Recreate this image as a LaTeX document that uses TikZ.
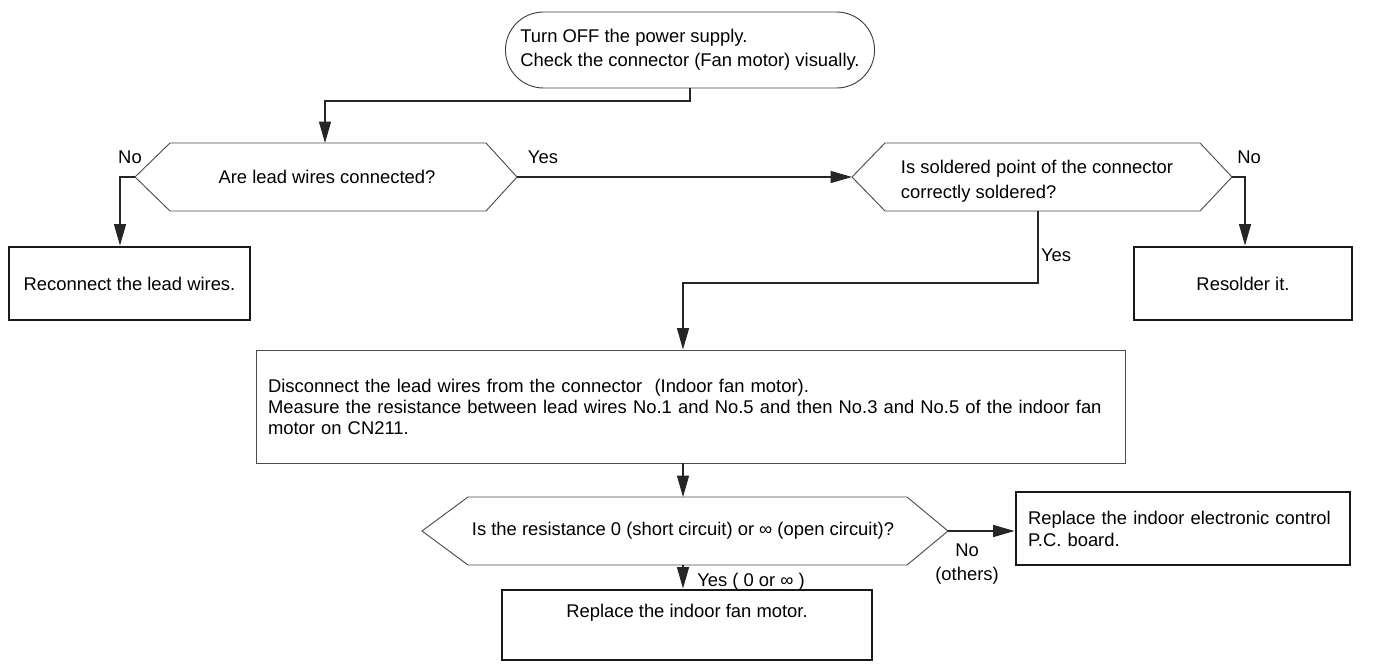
\documentclass[tikz,border=0pt]{standalone}
\usepackage{fontspec}
\setmainfont{Liberation Sans}
\usetikzlibrary{shapes.misc,arrows.meta,calc}

\begin{document}
\begin{tikzpicture}[x=0.75pt,y=-0.75pt,
  font=\fontsize{13.8}{18}\selectfont,
  line/.style={draw=black!85, line width=0.8pt},
  arr/.style={line, -{Triangle[length=16pt,width=9pt]}},
  hexa/.style={draw=black!70, line width=0.7pt},
  boldbox/.style={draw=black!90, line width=2.2pt, rectangle, inner sep=0pt},
  thinbox/.style={draw=black!70, line width=0.7pt, rectangle, inner sep=0pt},
  lbl/.style={inner sep=0pt}]
\useasboundingbox (0,0) rectangle (1377,667);

% start terminator
\node[rounded rectangle, draw=black!75, line width=0.7pt,
      minimum width=283.5pt, minimum height=57pt, align=left] (start) at (690,50)
  {Turn OFF the power supply.\\Check the connector (Fan motor) visually.};

% decision 1
\coordinate (h1w) at (135,177);
\coordinate (h1e) at (517,177);
\coordinate (h1n) at (325,143);
\draw[hexa] (h1w) -- (170,143) -- (486,143) -- (h1e) -- (486,211) -- (170,211) -- cycle;
\node[lbl] (q1) at (327,177) {Are lead wires connected?};

% decision 2
\coordinate (h2w) at (852,177);
\coordinate (h2e) at (1232,177);
\coordinate (h2s) at (1038,211);
\draw[hexa] (h2w) -- (885,143) -- (1200,143) -- (h2e) -- (1200,211) -- (885,211) -- cycle;
\node[lbl, align=left, font=\fontsize{13.8}{18.75}\selectfont] (q2) at (1037,181)
  {Is soldered point of the connector\\correctly soldered?};

% action boxes, first row
\node[boldbox, minimum width=180.75pt, minimum height=54.75pt] (reconnect) at (129.5,283.5)
  {Reconnect the lead wires.};
\node[boldbox, minimum width=163.5pt, minimum height=54.75pt] (resolder) at (1243,283.5)
  {Resolder it.};

% measurement box
\node[thinbox, minimum width=651.75pt, minimum height=84.75pt, text width=633.75pt,
      align=left, font=\fontsize{13.8}{15.75}\selectfont] (measure) at (690.5,406.5)
  {Disconnect the lead wires from the connector\ \ (Indoor fan motor).\\
   Measure the resistance between lead wires No.1 and No.5 and then No.3 and No.5 of the indoor fan\\
   motor on CN211.};

% decision 3
\coordinate (h3w) at (422,531);
\coordinate (h3e) at (948,531);
\coordinate (h3n) at (683,497);
\coordinate (h3s) at (683,565);
\draw[hexa] (h3w) -- (468,497) -- (907,497) -- (h3e) -- (907,565) -- (468,565) -- cycle;
\node[lbl] (q3) at (683,531) {Is the resistance 0 (short circuit) or ∞ (open circuit)?};

% final actions
\node[boldbox, minimum width=250.5pt, minimum height=54.75pt, text width=232.5pt,
      align=left, font=\fontsize{13.8}{16.5}\selectfont] (pcb) at (1183,528.5)
  {Replace the indoor electronic control\\P.C. board.};
\node[boldbox, minimum width=277.5pt, minimum height=52.5pt, text depth=22pt] (fan) at (687,625)
  {Replace the indoor fan motor.};

% connectors
\coordinate (j1) at (325,101);
\draw[arr] (start.south) |- (j1) -- (h1n);
\coordinate (r1) at (120,177);
\draw[arr] (h1w) -- (r1) -- (r1 |- reconnect.north);
\draw[arr] (h1e) -- (h2w);
\coordinate (r2) at (1245,177);
\draw[arr] (h2e) -- (r2) -- (r2 |- resolder.north);
\coordinate (j2) at (683,283);
\draw[arr] (h2s) |- (j2) -- (j2 |- measure.north);
\draw[arr] (h3n |- measure.south) -- (h3n);
\draw[arr] (h3e) -- (h3e -| pcb.west);
\draw[arr] (h3s) -- (h3s |- fan.north);

% branch labels
\node[lbl] (l1) at (130,157) {No};
\node[lbl] (l2) at (543,157) {Yes};
\node[lbl] (l3) at (1249,157) {No};
\node[lbl] (l4) at (1056,255) {Yes};
\node[lbl, anchor=west] (l5) at (697,582) {Yes ( 0 or ∞ )};
\node[lbl, align=center] (l6) at (967,564) {No\\(others)};
\end{tikzpicture}
\end{document}
